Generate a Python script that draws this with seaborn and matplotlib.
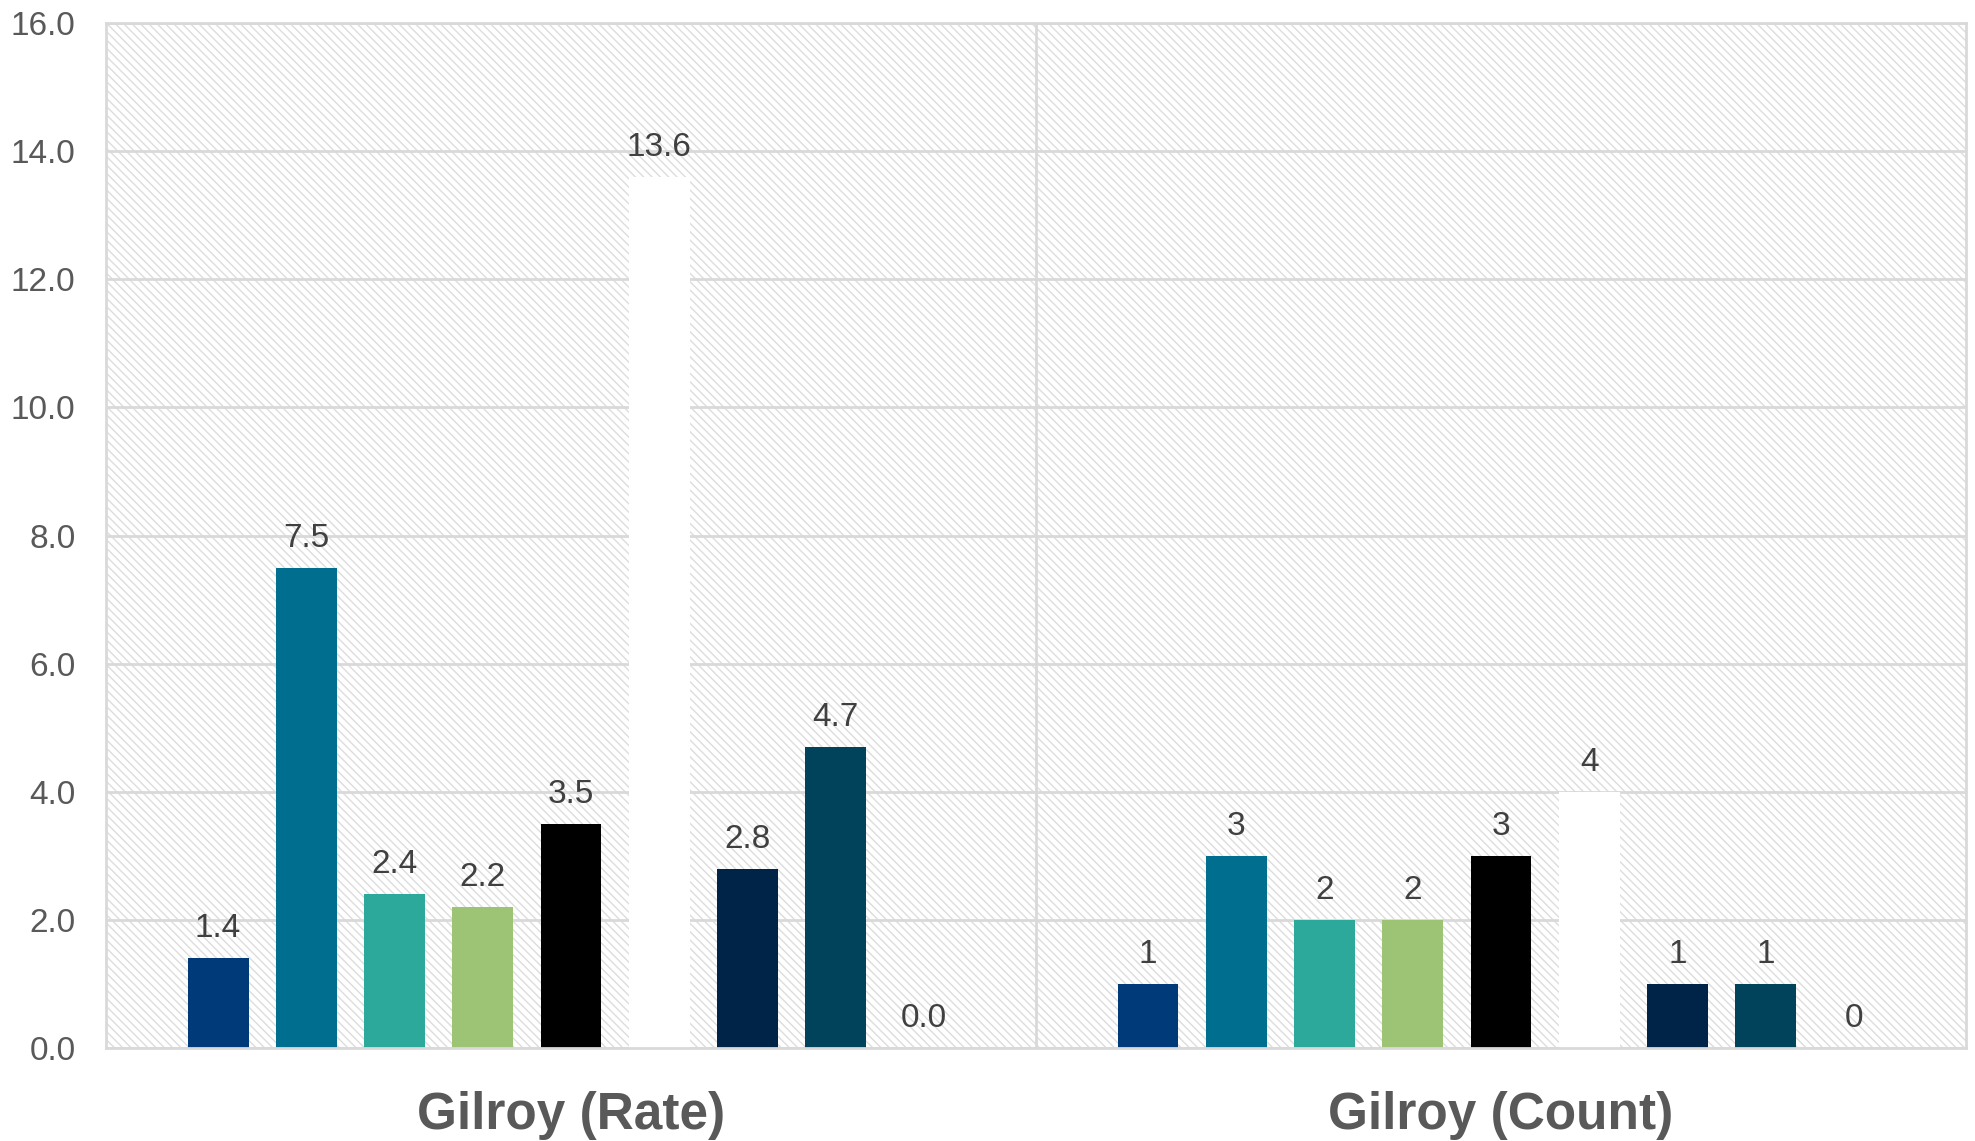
import matplotlib
matplotlib.use('Agg')
import matplotlib.pyplot as plt
import seaborn as sns
import pandas as pd

# chart data
groups = ['Gilroy (Rate)', 'Gilroy (Count)']
series = ['Series 1', 'Series 2', 'Series 3', 'Series 4', 'Series 5',
          'Series 6', 'Series 7', 'Series 8', 'Series 9']
rate_values = [1.4, 7.5, 2.4, 2.2, 3.5, 13.6, 2.8, 4.7, 0.0]
count_values = [1, 3, 2, 2, 3, 4, 1, 1, 0]
series_colors = ['#003A78', '#006E8F', '#2DA99B', '#9DC474', '#000000',
                 '#FFFFFF', '#002447', '#00435A', '#7F7F7F']
y_ticks = [0, 2, 4, 6, 8, 10, 12, 14, 16]

rows = []
for name, rate, count in zip(series, rate_values, count_values):
    rows.append({'group': groups[0], 'series': name, 'value': rate})
    rows.append({'group': groups[1], 'series': name, 'value': count})
df = pd.DataFrame(rows)

sns.set_style('white')
plt.rcParams['font.family'] = ['Liberation Sans', 'DejaVu Sans']
plt.rcParams['hatch.color'] = '#DDDDDD'
plt.rcParams['hatch.linewidth'] = 1.0

fig = plt.figure(figsize=(19.75, 11.41), dpi=100)
ax = fig.add_axes([0.0537, 0.0815, 0.9417, 0.8983])

# hatched plot background
ax.patch.set_facecolor('white')
ax.patch.set_hatch('\\\\\\\\')
ax.patch.set_edgecolor('#DDDDDD')

sns.barplot(data=df, x='group', y='value', hue='series', order=groups,
            hue_order=series, palette=series_colors, width=0.854, gap=0.31,
            saturation=1, linewidth=0, legend=False, ax=ax)

# data labels
for i, container in enumerate(ax.containers):
    labels = [f'{rate_values[i]:.1f}', f'{count_values[i]}']
    ax.bar_label(container, labels=labels, padding=10, fontsize=24,
                 color='#404040')

ax.set_xlim(-0.5, 1.5)
ax.set_ylim(0, 16)
ax.set_yticks(y_ticks)
ax.set_yticklabels([f'{v:.1f}' for v in y_ticks])
ax.set_xticks([0.5], minor=True)
ax.set_axisbelow(True)
ax.grid(axis='y', color='#D9D9D9', linewidth=2)
ax.grid(axis='x', which='minor', color='#D9D9D9', linewidth=2)
ax.grid(axis='x', which='major', visible=False)
for spine in ax.spines.values():
    spine.set_color('#D9D9D9')
    spine.set_linewidth(2)

ax.tick_params(axis='y', length=0, pad=22, labelsize=24, labelcolor='#595959')
ax.tick_params(axis='x', which='both', length=0, pad=31, labelsize=37,
               labelcolor='#595959')
for lbl in ax.get_xticklabels():
    lbl.set_fontweight('bold')
ax.set_xlabel('')
ax.set_ylabel('')

fig.savefig('out.png', dpi=100)
